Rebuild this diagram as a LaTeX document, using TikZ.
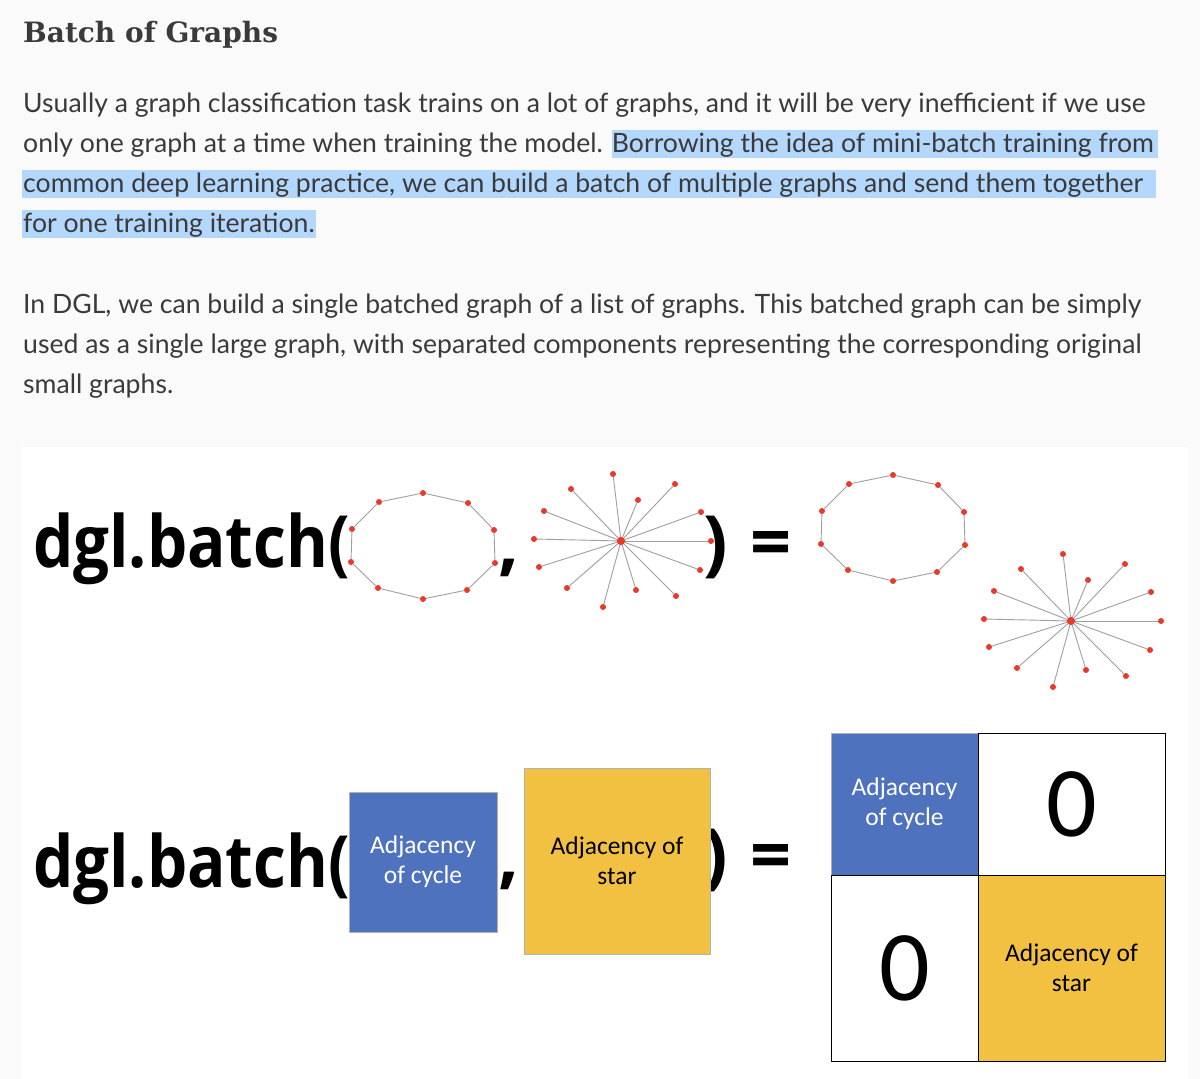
\documentclass[tikz,border=0pt]{standalone}
\usepackage{fontspec}
\setmainfont{Lato}
\newfontfamily\headfont{DejaVu Serif}
\newfontfamily\bigfont{Open Sans}
\newfontfamily\boxfont{Carlito}
\usetikzlibrary{positioning}
\definecolor{pagebg}{HTML}{FAFAFA}
\definecolor{bodytext}{HTML}{3A3A3A}
\definecolor{hilite}{HTML}{B3D7FD}
\definecolor{dotred}{HTML}{E8392A}
\definecolor{adjblue}{HTML}{4F72BE}
\definecolor{adjyellow}{HTML}{F2C141}
\newcommand{\narrow}[1]{\scalebox{0.885}[1]{#1}}
\tikzset{
  line/.style={anchor=base west, inner sep=0, text=bodytext, font=\fontsize{26.6}{26.6}\selectfont},
  vtx/.style={circle, fill=dotred, inner sep=0, minimum size=6pt},
  hub/.style={circle, fill=dotred, inner sep=0, minimum size=8pt},
  link/.style={draw=gray!75, line width=0.9pt},
  big/.style={anchor=base west, inner sep=0, font=\bigfont\bfseries\fontsize{72}{72}\selectfont},
  adj/.style={draw=gray!60, line width=0.6pt, inner sep=0, align=center, font=\boxfont\fontsize{25.5}{30}\selectfont},
  zero/.style={inner sep=0, font=\boxfont\fontsize{100}{100}\selectfont}
}
\begin{document}
\begin{tikzpicture}[x=1pt, y=-1pt]
  \fill[pagebg] (0,0) rectangle (1200,1079);
  \useasboundingbox (0,0) rectangle (1200,1079);
  \fill[white] (22,447) rectangle (1188,1079);

  % text above the picture
  \fill[hilite] (612,130) rectangle (1158,158);
  \fill[hilite] (22,170) rectangle (1156,198);
  \fill[hilite] (22,210) rectangle (316,238);
  \node[line, font=\headfont\bfseries\fontsize{28}{28}\selectfont] (title) at (23,42) {Batch of Graphs};
  \node[line] (p1) at (23,112) {Usually a graph classification task trains on a lot of graphs, and it will be very inefficient if we use};
  \node[line] (p2) at (23,152) {only one graph at a time when training the model. Borrowing the idea of mini-batch training from};
  \node[line] (p3) at (23,192) {common deep learning practice, we can build a batch of multiple graphs and send them together};
  \node[line] (p4) at (23,232) {for one training iteration.};
  \node[line] (q1) at (23,313) {In DGL, we can build a single batched graph of a list of graphs. This batched graph can be simply};
  \node[line] (q2) at (23,353) {used as a single large graph, with separated components representing the corresponding original};
  \node[line] (q3) at (23,393) {small graphs.};

  % first row: graphs
  \node[big] (batchA) at (33,567) {\narrow{dgl.batch(}};
  \node[big] (commaA) at (498,567) {,};
  \node[big] (closeA) at (703,567) {)};
  \node[big] (eqA) at (750,567) {=};
  \foreach \g/\dx/\dy in {a/0/0, b/470/-18} {
    \begin{scope}[shift={(\dx,\dy)}]
      \foreach \i/\px/\py in {1/423/493, 2/468/503, 3/494/530, 4/495/563, 5/467/590,
                              6/423/599, 7/378/588, 8/351/562, 9/352/529, 10/379/502}
        \node[vtx] (c\g\i) at (\px,\py) {};
      \foreach \i [remember=\i as \j (initially 10)] in {1,...,10}
        \draw[link] (c\g\j) -- (c\g\i);
    \end{scope}
  }
  \foreach \g/\dx/\dy in {a/0/0, b/450/80} {
    \begin{scope}[shift={(\dx,\dy)}]
      \node[hub] (s\g) at (621,541) {};
      \foreach \i/\px/\py in {1/613/474, 2/675/484, 3/638/500, 4/701/512, 5/711/541,
                              6/700/570, 7/676/596, 8/636/590, 9/603/607, 10/567/588,
                              11/539/567, 12/534/539, 13/544/511, 14/571/489} {
        \node[vtx] (s\g\i) at (\px,\py) {};
        \draw[link] (s\g) -- (s\g\i);
      }
      \node[hub] at (s\g) {};
    \end{scope}
  }

  % second row: adjacency blocks
  \node[big] (batchB) at (33,887) {\narrow{dgl.batch(}};
  \node[big] (commaB) at (498,880) {,};
  \node[big] (closeB) at (703,880) {)};
  \node[big] (eqB) at (750,880) {=};
  \node[adj, fill=adjblue, text=white, minimum width=148pt, minimum height=140pt] (cyc) at (423,862) {Adjacency\\of cycle};
  \node[adj, fill=adjyellow, minimum width=186pt, minimum height=186pt] (star) at (617,861) {Adjacency of\\star};
  \node[adj, fill=adjblue, text=white, minimum width=147pt, minimum height=142pt] (m11) at (904.5,804) {Adjacency\\of cycle};
  \node[adj, fill=white, draw=black, minimum width=187pt, minimum height=142pt] (m12) at (1071.5,804) {};
  \node[adj, fill=white, draw=black, minimum width=147pt, minimum height=186pt] (m21) at (904.5,968) {};
  \node[adj, fill=adjyellow, draw=black, minimum width=187pt, minimum height=186pt] (m22) at (1071.5,968) {Adjacency of\\star};
  \node[zero] at (m12) {0};
  \node[zero] at (m21) {0};
\end{tikzpicture}
\end{document}
